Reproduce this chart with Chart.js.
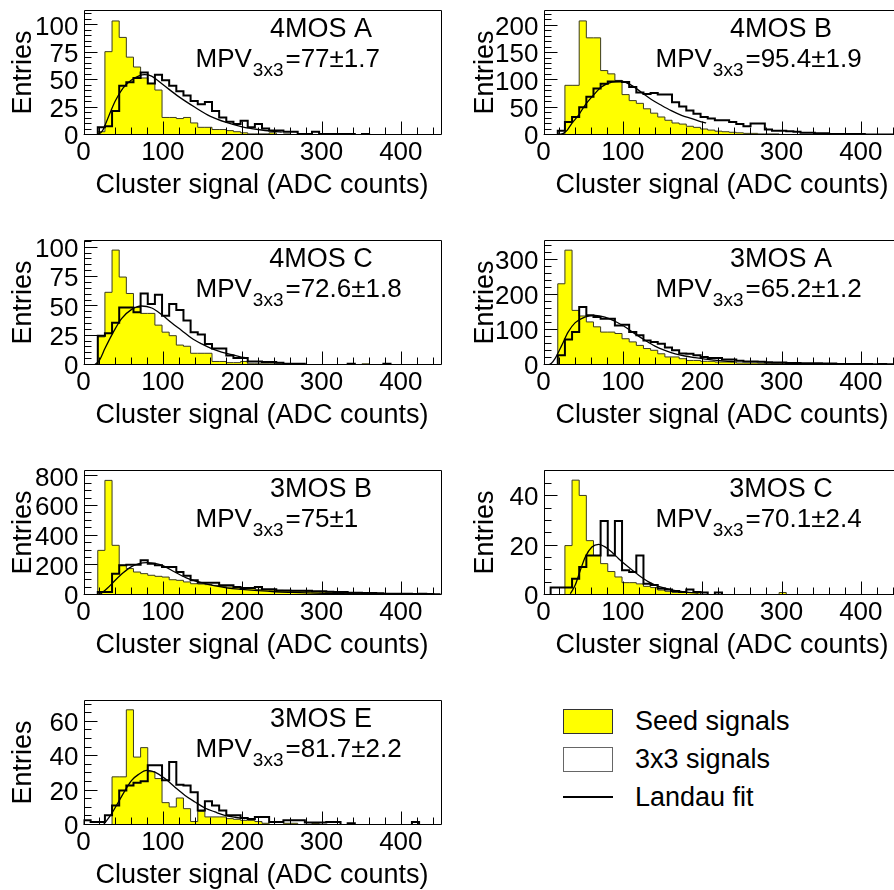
<!DOCTYPE html>
<html><head><meta charset="utf-8">
<script src="https://cdn.jsdelivr.net/npm/chart.js@4.4.1/dist/chart.umd.min.js"></script>
<style>
html,body{margin:0;padding:0;background:#fff;width:894px;height:890px;overflow:hidden;position:relative;font-family:'Liberation Sans',Arial,sans-serif;}
canvas{position:absolute;}
.lt{position:absolute;font-size:27px;line-height:27px;color:#000;white-space:nowrap;}
</style></head><body>
<div style="position:absolute;left:563px;top:709px;width:50px;height:25px;background:#ffff00;border:1px solid #333;box-sizing:border-box;"></div>
<div class="lt" style="left:635px;top:708px;">Seed signals</div>
<div style="position:absolute;left:563px;top:747px;width:50px;height:25px;background:#fff;border:1.5px solid #666;box-sizing:border-box;"></div>
<div class="lt" style="left:635px;top:746px;">3x3 signals</div>
<div style="position:absolute;left:563px;top:796px;width:50px;height:1.5px;background:#000;"></div>
<div class="lt" style="left:635px;top:784px;">Landau fit</div>
<script>
const FONT = "'Liberation Sans', Arial, Helvetica, sans-serif";
const BIN = 9;
const xTicks = [0, 100, 200, 300, 400];
const xMinorStep = 20;
const panelNames = ['4MOS A', '4MOS B', '4MOS C', '3MOS A', '3MOS B', '3MOS C', '3MOS E'];
const mpvValues = [77, 95.4, 72.6, 65.2, 75, 70.1, 81.7];
const mpvErrors = [1.7, 1.9, 1.8, 1.2, 1, 2.4, 2.2];
const yMaxes = [114, 229, 106.6, 357, 843, 50.6, 72.7];
const yTicks4MOSA = [0, 25, 50, 75, 100];
const yTicks4MOSB = [0, 50, 100, 150, 200];
const yTicks4MOSC = [0, 25, 50, 75, 100];
const yTicks3MOSA = [0, 100, 200, 300];
const yTicks3MOSB = [0, 200, 400, 600, 800];
const yTicks3MOSC = [0, 20, 40];
const yTicks3MOSE = [0, 20, 40, 60];
const yMinorSteps = [5, 10, 5, 20, 50, 5, 5];

// Seed-signal histograms (50 bins of 9 ADC counts, 0-450)
const seed4MOSA = [0,0,3,76,104,89,71,62,52,47, 41,16,16,15,16,11,7,7,5,5, 4,3,2,1,1,1,2,0,1,0, 1,0,0,0,0,0,0,0,0,0, 0,0,0,0,0,0,0,0,0,0];
const seed4MOSB = [0,0,2,91,91,209,178,178,118,112, 100,74,63,58,48,40,33,27,22,20, 16,14,11,9,7,6,5,4,3,3, 2,2,2,1,1,1,1,0,1,0, 0,0,0,0,0,0,0,0,0,0];
const seed4MOSC = [0,0,24,62,98,75,61,49,44,44, 34,28,25,17,16,10,10,10,3,3, 2,2,3,1,1,1,1,1,0,0, 0,0,0,0,0,0,0,1,0,1, 0,0,0,0,0,0,0,0,0,0];
const seed3MOSA = [0,0,232,328,156,140,123,109,94,94, 90,75,66,56,47,42,32,23,23,18, 13,13,10.5,10.5,8.6,8.6,8.6,5.7,5.7,5.7, 5,4,4,4,4,3,3,3,3,2, 2,2,2,1,2,1,1,1,1,1];
const seed3MOSB = [0,0,301,773,335,200,178,155,144,133, 126,121,103,99,88,76,74,70,65,58, 54,49,45,43,38,36,34,31,29,27, 27,25,22,20,20,18,16,16,13,13, 11,11,9,9,9,7,7,7,4,4];
const seed3MOSC = [0,0,0,20,46.5,40.3,22,16,12.7,9.5, 7.3,5,5,4.5,3.5,3,2,1.5,1,1, 1,1,0,0,0,0,0,0,0,0, 0,0,0,1,0,0,0,0,0,0, 0,0,0,0,0,0,0,0,0,0];
const seed3MOSE = [0,0,0,0,28,28,67,39.5,45,31, 27,13,10.5,15.7,9.5,2,8,4.7,4.7,4.7, 3.7,3.3,2.7,2.7,2,1,0,0,1,1, 0,0,1,0,0,0,0,0,0,0, 0,0,0,0,0,0,0,0,0,0];

// 3x3 cluster-signal histograms
const cl4MOSA = [0,0,7,8,22,45,48,52,57,47, 55,50,45,40,36,31,28,30,22,16, 12,10,13,7,10,6,4,4,3,3, 1,1,3,1,1,1,1,1,0,1, 0,0,0,0,0,0,0,0,0,0];
const cl4MOSB = [0,0,8,24,33,51,70,85,94,98, 98,97,88,78,75,77,74,74,60,52, 45,39,33,30,27,27,24,20,16,21, 21,10,8,8,7,6,4,4,3,3, 2,2,2,2,2,1,1,1,1,1];
const cl4MOSC = [0,0,25,27,36,49,49,45,61,52, 60,42,52,47,38,28,26,18,14,14, 8,6,6,3,3,2.5,2.5,2,1,1, 1,0,0,0,0,0,0,1,0,0, 0,0,1,0,0,0,0,0,0,0];
const cl3MOSA = [0,0,28,73,94,166,142,137,132,132, 113,115,94,85,70,66,61,50,42,33, 32,28,23,20,20,16,16,12,10,10, 9,8,7,7,6,6,5,5,5,4, 4,3,3,3,3,3,2,3,2,2];
const cl3MOSB = [0,0,20,20,144,200,204,204,234,211, 200,189,189,155,130,99,83,83,83,65, 65,54,47,47,54,38,38,31,31,29, 29,29,25,25,22,20,20,16,16,13, 13,11,9,9,9,9,7,9,7,5];
const cl3MOSC = [0,3,3,3,6.6,11.3,16,16,30,16, 30,10,9.3,16,4.6,4,2.6,2.2,1.6,1.2, 2.2,1.2,1,0,1,0,0,0,0,0, 0,0,0,0,0,0,0,0,0,0, 0,0,0,0,0,0,0,0,0,0];
const cl3MOSE = [2.7,1.7,1.7,5.6,11.4,20,23,24.6,25.4,34.7, 34.7,26,36.6,23.4,23,19,8.5,13.8,11.4,8.5, 5.6,5.6,4,3.5,4.6,4.6,1.7,1.7,2.7,2.7, 2.7,1.4,1.4,1.4,1.7,1.7,0,1,0,0, 0,0,0,0,0,0,1.7,0,0,0];

// Landau fit curves
const fit4MOSA_x = [17,24,30,40,50,60,70,77,85,100,120,140,160,180,200,220,240,250];
const fit4MOSA_y = [0,4,14,31,43,50,54,55,54,46,35,25.5,17,11.5,7.5,5,3.3,2.7];
const fit4MOSB_x = [20,25,30,35.5,44,52,63,73,86,98,111,124,136,149,161,174,187,199,205];
const fit4MOSB_y = [0,3,9,21,36,54,73,88,97,98.5,91,77.5,65,54,44.6,36,30,24,22];
const fit4MOSC_x = [14.5,20,27,37.6,48,60.7,73,86,98.5,111,123.7,136,149,161.5,174,187,199,204];
const fit4MOSC_y = [0.5,4,14,28,39.5,47.4,50.3,48.6,43,36,29.5,23,18,14,11,8.8,6.8,6.2];
const fit3MOSA_x = [6,10,14.5,23,31,40,52,65,77.5,90,103,115,128,140.5,153,166,178,191,203.5,216,229,241];
const fit3MOSA_y = [0,5,18,56,94,121,137,142,137,125,108.6,89.5,70.5,54,42,32,25.7,21,17,14,11,9.5];
const fit3MOSB_x = [20,30,40,50,60,70,80,90,100,115,132,149,166,182,199,220,241,262,283,304,325,367,409];
const fit3MOSB_y = [0,45,100,150,190,212,218,213,198,155,110,83,61,47,38,29,22,18,15,11,9,7,4.5];
const fit3MOSC_x = [33.8,40,46.4,52.7,61,69.5,78,86,94.7,107,120,132.5,145,158,170,183,195.5];
const fit3MOSC_y = [0.5,4,10,15.4,19.4,20.5,19.4,17.4,14.7,11.3,8,5.3,3.5,2.4,1.6,1.1,0.8];
const fit3MOSE_x = [25,35.5,44,52.3,60.7,69,79.6,90,102.7,115.3,128,140.5,153,165.7,178,191,203.5];
const fit3MOSE_y = [0,6.6,13.4,20,26,29.3,31.8,30.8,27,22,17.2,13.4,9.9,7.6,5.6,4.5,3.7];

const seeds = [seed4MOSA, seed4MOSB, seed4MOSC, seed3MOSA, seed3MOSB, seed3MOSC, seed3MOSE];
const clusters = [cl4MOSA, cl4MOSB, cl4MOSC, cl3MOSA, cl3MOSB, cl3MOSC, cl3MOSE];
const fitXs = [fit4MOSA_x, fit4MOSB_x, fit4MOSC_x, fit3MOSA_x, fit3MOSB_x, fit3MOSC_x, fit3MOSE_x];
const fitYs = [fit4MOSA_y, fit4MOSB_y, fit4MOSC_y, fit3MOSA_y, fit3MOSB_y, fit3MOSC_y, fit3MOSE_y];
const yTickSets = [yTicks4MOSA, yTicks4MOSB, yTicks4MOSC, yTicks3MOSA, yTicks3MOSB, yTicks3MOSC, yTicks3MOSE];

Chart.defaults.font.family = FONT;
Chart.defaults.color = '#000';

function stepPoints(vals) {
  const pts = [{x: 0, y: 0}];
  vals.forEach((v, i) => pts.push({x: i * BIN, y: v}));
  pts.push({x: vals.length * BIN, y: vals[vals.length - 1]});
  pts.push({x: vals.length * BIN, y: 0});
  return pts;
}
function curvePoints(xs, ys) { return xs.map((x, k) => ({x: x, y: ys[k]})); }

const frameTicks = {
  id: 'frameTicks',
  afterDatasetsDraw(chart, args, opts) {
    const {ctx, chartArea: a, scales: {x, y}} = chart;
    ctx.save();
    ctx.strokeStyle = '#000';
    ctx.lineWidth = 1;
    const L = Math.round(a.left) + 0.5, R = Math.round(a.right) + 0.5;
    const T = Math.round(a.top) + 0.5, B = Math.round(a.bottom) - 0.5;
    ctx.beginPath();
    ctx.rect(L, T, R - L, B - T);
    for (let v = 0; v <= x.max + 1e-6; v += xMinorStep) {
      const px = Math.round(x.getPixelForValue(v)) + 0.5;
      const len = (v % 100 === 0) ? 13 : 7;
      ctx.moveTo(px, B); ctx.lineTo(px, B - len);
    }
    const ms = opts.minor, major = opts.major;
    for (let v = 0; v <= y.max + 1e-6; v += ms) {
      const py = Math.round(y.getPixelForValue(v)) - 0.5;
      const isMajor = Math.abs(v / major - Math.round(v / major)) < 1e-6;
      const len = isMajor ? 13 : 7;
      ctx.moveTo(L, py); ctx.lineTo(L + len, py);
    }
    ctx.stroke();
    ctx.restore();
  }
};

const panelText = {
  id: 'panelText',
  afterDraw(chart, args, opts) {
    const {ctx, chartArea: a} = chart;
    ctx.save();
    ctx.fillStyle = '#000';
    ctx.textBaseline = 'alphabetic';
    ctx.font = '27px ' + FONT;
    ctx.textAlign = 'center';
    ctx.fillText(opts.name, a.left + 237.5, a.top + 27);
    ctx.textAlign = 'left';
    let x = a.left + 112;
    const y0 = a.top + 57;
    ctx.font = '26px ' + FONT;
    ctx.fillText('MPV', x, y0);
    x += ctx.measureText('MPV').width + 1;
    ctx.font = '19px ' + FONT;
    ctx.fillText('3x3', x, y0 + 9);
    x += ctx.measureText('3x3').width + 2;
    ctx.font = '26px ' + FONT;
    ctx.fillText('=' + opts.mpv + '\u00B1' + opts.err, x, y0);
    ctx.restore();
  }
};

for (let i = 0; i < 7; i++) {
  const col = i % 2, row = Math.floor(i / 2);
  const cv = document.createElement('canvas');
  cv.width = 450; cv.height = 230;
  cv.style.left = (col * 460) + 'px';
  cv.style.top = (row * 230) + 'px';
  cv.style.width = '450px'; cv.style.height = '230px';
  document.body.appendChild(cv);
  const yt = yTickSets[i];
  new Chart(cv, {
    type: 'line',
    data: {
      datasets: [
        {label: 'Landau fit', data: curvePoints(fitXs[i], fitYs[i]), borderColor: '#000', borderWidth: 1.3,
         pointRadius: 0, cubicInterpolationMode: 'monotone', fill: false},
        {label: '3x3 signals', data: stepPoints(clusters[i]), stepped: 'before', borderColor: '#000', borderWidth: 2,
         pointRadius: 0, fill: false},
        {label: 'Seed signals', data: stepPoints(seeds[i]), stepped: 'before', borderColor: '#3b3b20', borderWidth: 1,
         pointRadius: 0, fill: 'origin', backgroundColor: '#ffff00'}
      ]
    },
    options: {
      responsive: false,
      animation: false,
      devicePixelRatio: 1,
      layout: {padding: {top: 10, right: 9.5, bottom: 0, left: 0}},
      plugins: {
        legend: {display: false},
        tooltip: {enabled: false},
        panelText: {name: panelNames[i], mpv: mpvValues[i], err: mpvErrors[i]},
        frameTicks: {minor: yMinorSteps[i], major: yt[1] - yt[0]}
      },
      scales: {
        x: {
          type: 'linear', min: 0, max: 450,
          grid: {display: false, drawTicks: false},
          border: {display: false},
          afterBuildTicks: s => { s.ticks = xTicks.map(v => ({value: v})); },
          afterFit: s => { s.height = 95; s.paddingLeft = 0; s.paddingRight = 0; },
          ticks: {autoSkip: false, maxRotation: 0, minRotation: 0, padding: 2, color: '#000', font: {size: 26}},
          title: {display: true, text: 'Cluster signal (ADC counts)', color: '#000', font: {size: 27},
                  padding: {top: 0, bottom: 28}}
        },
        y: {
          type: 'linear', min: 0, max: yMaxes[i],
          grid: {display: false, drawTicks: false},
          border: {display: false},
          afterBuildTicks: s => { s.ticks = yt.map(v => ({value: v})); },
          afterFit: s => { s.width = 83.5; s.paddingTop = 0; s.paddingBottom = 0; },
          ticks: {autoSkip: false, padding: 5, labelOffset: 2, color: '#000', font: {size: 26}},
          title: {display: true, text: 'Entries', color: '#000', font: {size: 27},
                  padding: {top: col === 0 ? 7 : 9, bottom: 0}}
        }
      }
    },
    plugins: [frameTicks, panelText]
  });
}
</script>
</body></html>
